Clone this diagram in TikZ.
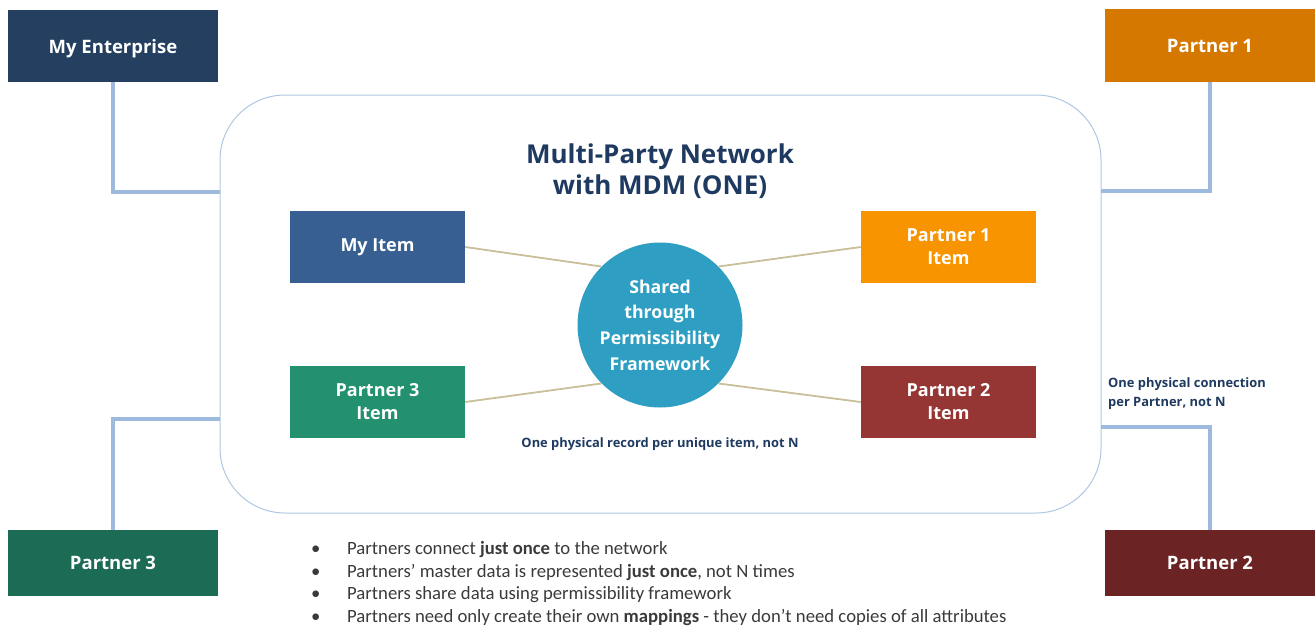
\documentclass[tikz,border=0pt]{standalone}
\usepackage{fontspec}
\setmainfont{Open Sans}
\newfontfamily\calibri{Carlito}
\definecolor{entc}{HTML}{243F60}
\definecolor{p1c}{HTML}{D57800}
\definecolor{p3c}{HTML}{1B6B55}
\definecolor{p2c}{HTML}{6B2423}
\definecolor{myitc}{HTML}{375F92}
\definecolor{p1ic}{HTML}{F79400}
\definecolor{p3ic}{HTML}{23906F}
\definecolor{p2ic}{HTML}{963634}
\definecolor{circc}{HTML}{2E9FC2}
\definecolor{connc}{HTML}{9DB9DE}
\definecolor{netc}{HTML}{AFC6E4}
\definecolor{spokec}{HTML}{C9BF9A}
\definecolor{navy}{HTML}{1F3A60}
\definecolor{bulc}{HTML}{3A3A3A}
\begin{document}
\begin{tikzpicture}[x=1pt,y=-1pt,
  outer/.style={draw=none,fill=#1,text=white,font=\fontsize{18.5}{22}\selectfont\bfseries,minimum width=210pt,inner sep=0pt,align=center},
  item/.style={draw=none,fill=#1,text=white,font=\fontsize{18}{23}\selectfont\bfseries,minimum width=175pt,minimum height=72pt,inner sep=0pt,align=center},
  conn/.style={draw=connc,line width=4pt},
  spoke/.style={draw=spokec,line width=1.8pt},
  note/.style={text=navy,font=\fontsize{12.9}{19}\selectfont\bfseries,inner sep=0pt}]
\useasboundingbox (0,0) rectangle (1315,627);
\node[draw=netc,line width=1pt,rounded corners=65pt,minimum width=881pt,minimum height=418pt,inner sep=0pt] (net) at (660.5,304) {};
\node[outer=entc,minimum height=72pt,text depth=0pt] (ent) at (113,46) {My Enterprise};
\node[outer=p1c,minimum height=73pt] (p1) at (1210,45.5) {Partner 1};
\node[outer=p3c,minimum height=66pt] (p3) at (113,563) {Partner 3};
\node[outer=p2c,minimum height=66pt] (p2) at (1210,563) {Partner 2};
\coordinate (j1) at (220,192);
\coordinate (j2) at (1101,191);
\coordinate (j3) at (220,419);
\coordinate (j4) at (1101,427);
\draw[conn] (ent.south) |- (j1);
\draw[conn] (p1.south) |- (j2);
\draw[conn] (p3.north) |- (j3);
\draw[conn] (p2.north) |- (j4);
\node[text=navy,font=\fontsize{26}{31}\selectfont\bfseries,align=center] (title) at (660,171) {Multi-Party Network\\with MDM (ONE)};
\node[circle,fill=circc,minimum size=165pt,inner sep=0pt,text=white,font=\fontsize{17.7}{25.7}\selectfont\bfseries,align=center] (c) at (660,325) {Shared\\through\\Permissibility\\Framework};
\node[item=myitc] (mi) at (377.5,247) {My Item};
\node[item=p1ic] (p1i) at (948.5,247) {Partner 1\\Item};
\node[item=p3ic] (p3i) at (377.5,402) {Partner 3\\Item};
\node[item=p2ic] (p2i) at (948.5,402) {Partner 2\\Item};
\draw[spoke] (mi.east) -- (c.135);
\draw[spoke] (p1i.west) -- (c.45);
\draw[spoke] (p3i.east) -- (c.225);
\draw[spoke] (p2i.west) -- (c.315);
\node[note] (rec) at (660,444) {One physical record per unique item, not N};
\node[note,anchor=north west,align=left] (phys) at (1108,377) {One physical connection\\per Partner, not N};
\node[anchor=north west,inner sep=0pt,text=bulc,font=\calibri\fontsize{18.7}{22.7}\selectfont,align=left] (bul) at (311,541)
 {\makebox[36pt][l]{\textbullet}Partners connect \textbf{just once} to the network\\
  \makebox[36pt][l]{\textbullet}Partners’ master data is represented \textbf{just once}, not N times\\
  \makebox[36pt][l]{\textbullet}Partners share data using permissibility framework\\
  \makebox[36pt][l]{\textbullet}Partners need only create their own \textbf{mappings} - they don’t need copies of all attributes};
\end{tikzpicture}
\end{document}
